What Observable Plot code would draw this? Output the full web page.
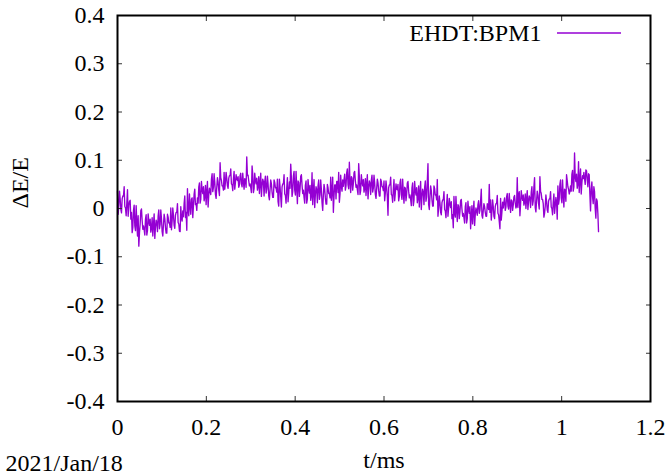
<!DOCTYPE html>
<html>
<head>
<meta charset="utf-8">
<script src="https://cdn.jsdelivr.net/npm/d3@7"></script>
<script src="https://cdn.jsdelivr.net/npm/@observablehq/plot@0.6"></script>
<style>
  html, body { margin: 0; padding: 0; background: #fff; }
  svg text { font-family: "Liberation Serif", "Times New Roman", serif !important; }
</style>
</head>
<body>
<div id="chart"></div>
<script>
// sample spacing of the BPM record, ms
const sampleStep = 0.0015;
// ΔE/E samples
const dE = [
  0.036, -0.012, 0.007, 0.036, 0.020, -0.002, -0.009, 0.020, 0.026, 0.026, 0.045, 0.004, 0.001, -0.015, 0.012, 0.039, -0.016, 0.007, 0.015, 0.017,
  -0.022, -0.008, -0.050, -0.039, -0.004, 0.007, -0.036, -0.046, 0.006, -0.029, -0.057, -0.015, -0.078, -0.050, -0.032, -0.004, -0.001, -0.025, -0.043, -0.036,
  -0.044, -0.055, -0.022, -0.013, -0.055, -0.046, -0.011, -0.027, -0.035, -0.022, -0.049, -0.041, -0.019, -0.057, -0.033, -0.011, -0.062, -0.038, -0.024, -0.030,
  -0.048, -0.015, -0.003, -0.042, -0.033, -0.003, -0.021, -0.048, -0.057, -0.033, -0.012, -0.021, -0.039, -0.051, -0.051, -0.012, -0.018, -0.030, -0.030, -0.039,
  0.001, -0.044, -0.026, 0.001, -0.014, -0.035, -0.041, -0.014, -0.008, -0.008, 0.010, -0.029, -0.032, -0.047, -0.048, 0.004, -0.020, -0.026, -0.005, -0.017,
  0.011, 0.026, -0.019, -0.008, -0.045, 0.041, -0.004, -0.015, 0.030, 0.004, -0.012, 0.019, 0.022, -0.019, 0.006, 0.030, 0.040, 0.008, 0.010, -0.004,
  0.022, 0.011, 0.045, 0.053, 0.011, 0.019, 0.056, 0.039, 0.031, 0.045, 0.016, 0.025, 0.048, 0.008, 0.034, 0.056, 0.003, 0.028, 0.042, 0.036,
  0.029, 0.061, 0.072, 0.035, 0.044, 0.072, 0.055, 0.029, 0.021, 0.044, 0.064, 0.055, 0.038, 0.027, 0.095, 0.064, 0.058, 0.047, 0.047, 0.038,
  0.075, 0.040, 0.054, 0.075, 0.063, 0.047, 0.042, 0.063, 0.068, 0.068, 0.082, 0.051, 0.049, 0.037, 0.061, 0.077, 0.040, 0.054, 0.070, 0.061,
  0.058, 0.066, 0.044, 0.049, 0.068, 0.073, 0.051, 0.045, 0.073, 0.055, 0.040, 0.062, 0.060, 0.044, 0.107, 0.068, 0.069, 0.057, 0.047, 0.051,
  0.043, 0.033, 0.088, 0.071, 0.033, 0.041, 0.073, 0.058, 0.051, 0.063, 0.038, 0.046, 0.066, 0.031, 0.053, 0.073, 0.025, 0.048, 0.061, 0.056,
  0.026, 0.056, 0.067, 0.032, 0.040, 0.067, 0.051, 0.026, 0.018, 0.040, 0.059, 0.051, 0.034, 0.023, 0.023, 0.059, 0.054, 0.043, 0.043, 0.034,
  0.061, 0.014, 0.005, 0.061, 0.045, 0.024, 0.003, 0.045, 0.051, 0.051, 0.070, 0.030, 0.027, 0.011, 0.042, 0.064, 0.014, 0.033, 0.055, 0.042,
  0.092, 0.064, 0.025, 0.035, 0.067, 0.077, 0.038, 0.028, 0.077, 0.044, 0.010, 0.057, 0.054, 0.025, 0.041, 0.067, 0.070, 0.048, 0.031, 0.038,
  0.023, 0.011, 0.048, 0.057, 0.011, 0.020, 0.060, 0.042, 0.032, 0.048, 0.017, 0.026, 0.074, 0.008, 0.036, 0.060, 0.002, 0.029, 0.045, 0.039,
  0.012, 0.047, 0.059, 0.019, 0.028, 0.059, 0.040, 0.012, -0.004, 0.028, 0.050, 0.040, 0.022, 0.009, 0.009, 0.050, 0.043, 0.031, 0.031, 0.022,
  0.065, 0.017, 0.036, 0.065, -0.008, 0.026, 0.049, 0.049, 0.020, 0.056, 0.056, 0.033, 0.075, 0.013, 0.030, 0.069, 0.046, 0.036, 0.059, 0.046,
  0.060, 0.071, 0.038, 0.047, 0.074, 0.082, 0.049, 0.041, 0.096, 0.055, 0.033, 0.066, 0.063, 0.038, 0.052, 0.074, 0.077, 0.058, 0.044, 0.049,
  0.039, 0.029, 0.093, 0.067, 0.029, 0.037, 0.070, 0.055, 0.047, 0.060, 0.034, 0.042, 0.062, 0.027, 0.050, 0.070, 0.020, 0.044, 0.057, 0.052,
  0.029, 0.059, 0.069, 0.034, 0.042, 0.069, 0.053, 0.029, 0.021, 0.042, 0.061, 0.053, 0.037, 0.026, 0.026, 0.061, 0.056, 0.045, 0.045, 0.037,
  0.057, 0.016, 0.032, 0.057, 0.043, 0.024, -0.014, 0.043, 0.049, 0.049, 0.065, 0.029, 0.027, 0.013, 0.040, 0.060, 0.016, 0.032, 0.051, 0.040,
  0.039, 0.050, 0.016, 0.025, 0.053, 0.061, 0.028, 0.019, 0.061, 0.033, 0.011, 0.044, 0.042, 0.016, 0.030, 0.053, 0.056, 0.036, 0.022, 0.028,
  0.019, 0.006, 0.043, 0.053, 0.006, 0.016, 0.056, 0.037, 0.028, 0.043, 0.012, 0.022, 0.047, 0.003, 0.031, 0.056, -0.002, 0.025, 0.040, 0.034,
  0.008, 0.044, 0.057, 0.015, 0.024, 0.057, 0.093, 0.008, -0.002, 0.024, 0.047, 0.037, 0.018, 0.005, 0.005, 0.047, 0.041, 0.028, 0.028, 0.018,
  0.060, -0.016, 0.001, 0.026, 0.012, -0.008, -0.013, 0.012, 0.018, 0.018, 0.035, -0.002, -0.005, -0.019, 0.009, 0.029, -0.016, 0.001, 0.021, 0.009,
  0.002, 0.014, -0.021, -0.013, -0.040, 0.025, -0.010, -0.018, 0.025, -0.004, -0.027, 0.008, 0.005, -0.021, -0.007, 0.016, 0.019, -0.001, -0.016, -0.010,
  -0.019, -0.030, 0.004, 0.012, -0.030, -0.021, 0.015, -0.002, -0.010, 0.004, -0.042, -0.016, 0.006, -0.032, -0.008, 0.015, -0.035, -0.013, 0.001, -0.005,
  -0.014, 0.008, 0.016, -0.010, -0.004, 0.016, 0.040, -0.014, -0.020, -0.004, 0.010, 0.004, -0.008, -0.016, -0.016, 0.010, 0.006, -0.002, 0.050, -0.008,
  0.018, -0.024, -0.007, 0.018, 0.004, -0.016, -0.021, 0.004, 0.010, 0.010, 0.027, -0.010, -0.013, -0.027, -0.042, 0.021, -0.024, -0.007, 0.013, 0.001,
  0.014, 0.022, -0.004, 0.003, 0.024, 0.031, 0.005, -0.001, 0.031, 0.009, -0.008, 0.018, 0.016, -0.004, 0.007, 0.024, 0.027, 0.012, 0.001, 0.005,
  0.064, 0.002, 0.028, 0.035, -0.015, 0.009, 0.037, 0.024, 0.017, 0.028, 0.007, 0.013, 0.030, 0.000, 0.020, 0.037, -0.002, 0.015, 0.026, 0.022,
  0.002, 0.034, 0.045, 0.007, 0.016, 0.045, 0.064, 0.002, -0.007, 0.016, 0.036, 0.028, 0.010, -0.001, 0.066, 0.036, 0.031, 0.019, 0.019, 0.010,
  -0.018, -0.010, 0.005, 0.028, 0.015, -0.003, -0.008, 0.015, 0.020, 0.020, 0.035, 0.003, 0.000, -0.013, 0.013, 0.030, -0.010, 0.005, 0.023, 0.013,
  -0.022, 0.047, 0.009, 0.019, 0.050, 0.059, 0.022, 0.012, 0.059, 0.028, 0.003, 0.040, 0.037, 0.015, 0.070, 0.058, 0.045, 0.040, 0.030, 0.035,
  0.047, 0.036, 0.071, 0.079, 0.036, 0.045, 0.115, 0.065, 0.056, 0.071, 0.042, 0.050, 0.097, 0.033, 0.059, 0.082, 0.030, 0.053, 0.068, 0.062,
  0.075, 0.062, 0.050, 0.080, 0.078, 0.060, 0.045, 0.072, 0.070, 0.030, -0.005, 0.040, 0.055, 0.025, 0.010, 0.045, 0.035, 0.000, -0.020, 0.020,
  0.015, -0.010, -0.048
];
const xTicks = [0, 0.2, 0.4, 0.6, 0.8, 1, 1.2];
const xTickLabels = ["0", "0.2", "0.4", "0.6", "0.8", "1", "1.2"];
const yTicks = [-0.4, -0.3, -0.2, -0.1, 0, 0.1, 0.2, 0.3, 0.4];
const yTickLabels = ["-0.4", "-0.3", "-0.2", "-0.1", "0", "0.1", "0.2", "0.3", "0.4"];
const seriesName = "EHDT:BPM1";
const xTitle = "t/ms";
const yTitle = "ΔE/E";
const dateText = "2021/Jan/18";

const rows = dE.map((v, i) => ({t: i * sampleStep, v}));
const lineColor = "#9400d3";
const fnt = "'Liberation Serif', 'Times New Roman', serif";
const fs = 24;

const legendSample = (index, scales, values, dims) => {
  const g = d3.create("svg:g");
  const xr = dims.width - dims.marginRight;
  g.append("line")
    .attr("x1", xr - 93).attr("x2", xr - 29)
    .attr("y1", dims.marginTop + 18).attr("y2", dims.marginTop + 18)
    .attr("stroke", lineColor).attr("stroke-width", 1.3);
  return g.node();
};

const chart = Plot.plot({
  width: 672,
  height: 474,
  marginLeft: 117,
  marginRight: 22,
  marginTop: 15,
  marginBottom: 73,
  style: {fontFamily: fnt, fontSize: fs + "px", background: "#fff", color: "#000", overflow: "visible"},
  x: {domain: [0, 1.2]},
  y: {domain: [-0.4, 0.4]},
  marks: [
    Plot.line(rows, {x: "t", y: "v", stroke: lineColor, strokeWidth: 1.35}),
    Plot.axisX({anchor: "bottom", ticks: xTicks, tickSize: -5, tickPadding: 21,
      tickFormat: d => xTickLabels[xTicks.indexOf(d)], label: null, stroke: "#333",
      fontSize: fs, fontFamily: fnt, fontVariant: "normal"}),
    Plot.axisX({anchor: "top", ticks: xTicks, tickSize: -5, tickFormat: () => "", label: null, stroke: "#333"}),
    Plot.axisY({anchor: "left", ticks: yTicks, tickSize: -5, tickPadding: 18,
      tickFormat: d => yTickLabels[yTicks.indexOf(d)], label: null, stroke: "#333",
      fontSize: fs, fontFamily: fnt, fontVariant: "normal"}),
    Plot.axisY({anchor: "right", ticks: yTicks, tickSize: -5, tickFormat: () => "", label: null, stroke: "#333"}),
    Plot.frame({stroke: "#000", strokeWidth: 2}),
    Plot.text([seriesName], {frameAnchor: "top-right", text: d => d, dx: -109, dy: 18,
      textAnchor: "end", lineAnchor: "middle", fontSize: fs, fontFamily: fnt, fill: "#000"}),
    legendSample,
    Plot.text([xTitle], {frameAnchor: "bottom", text: d => d, dy: 66, lineAnchor: "bottom",
      fontSize: fs, fontFamily: fnt, fill: "#000"}),
    Plot.text([yTitle], {frameAnchor: "left", text: d => d, dx: -97, rotate: -90,
      lineAnchor: "middle", fontSize: fs, fontFamily: fnt, fill: "#000"}),
    Plot.text([dateText], {frameAnchor: "bottom-left", text: d => d, dx: -112, dy: 69,
      textAnchor: "start", lineAnchor: "bottom", fontSize: fs, fontFamily: fnt, fill: "#000"})
  ]
});
document.getElementById("chart").appendChild(chart);
</script>
</body>
</html>
